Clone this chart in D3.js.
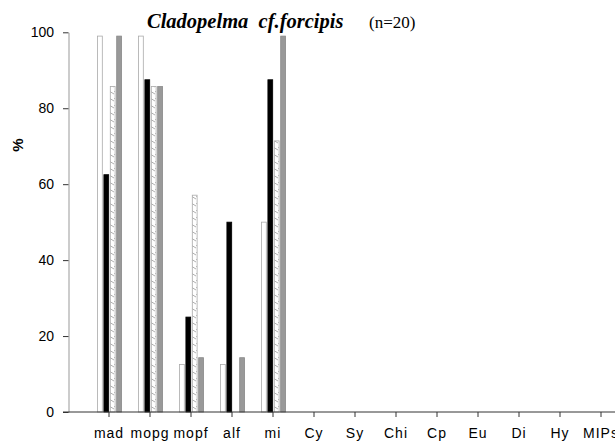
<!DOCTYPE html>
<html lang="en">
<head>
<meta charset="utf-8">
<title>Cladopelma cf.forcipis</title>
<script src="https://d3js.org/d3.v7.min.js"></script>
<style>
  body { margin: 0; padding: 0; background: white; overflow: hidden; }
  svg { display: block; }
</style>
</head>
<body>
<div id="chart"></div>
<script>
  const categories = ["mad", "mopg", "mopf", "alf", "mi", "Cy", "Sy", "Chi", "Cp", "Eu", "Di", "Hy", "MIPs"];
  const seriesNames = ["white", "black", "hatched", "gray"];
  const whiteVals   = [99, 99, 12.5, 12.5, 50, 0, 0, 0, 0, 0, 0, 0, 0];
  const blackVals   = [62.5, 87.5, 25, 50, 87.5, 0, 0, 0, 0, 0, 0, 0, 0];
  const hatchedVals = [85.7, 85.7, 57.1, 0, 71.4, 0, 0, 0, 0, 0, 0, 0, 0];
  const grayVals    = [99, 85.7, 14.3, 14.3, 99, 0, 0, 0, 0, 0, 0, 0, 0];
  const yTicks = [0, 20, 40, 60, 80, 100];

  const w = 615, h = 443;
  const svg = d3.select("#chart").append("svg")
      .attr("width", w).attr("height", h);

  const defs = svg.append("defs");
  const pat = defs.append("pattern")
      .attr("id", "hatch")
      .attr("patternUnits", "userSpaceOnUse")
      .attr("width", 5).attr("height", 7);
  pat.append("rect").attr("width", 5).attr("height", 7).attr("fill", "white");
  pat.append("line")
      .attr("x1", 0).attr("y1", 0).attr("x2", 5).attr("y2", 3)
      .attr("stroke", "#999").attr("stroke-width", 0.8);

  const x = d3.scaleBand().domain(categories).range([88.5, 621.5]).padding(0);
  const x1 = d3.scaleBand().domain(seriesNames).range([-11.5, 12.5]).paddingInner(0.25);
  const y = d3.scaleLinear().domain([0, 100]).range([412, 32.3]);

  const rows = categories.map((c, i) => ({
    cat: c,
    vals: [whiteVals[i], blackVals[i], hatchedVals[i], grayVals[i]]
  }));

  const styles = {
    white:   { fill: "white", stroke: "#aaa" },
    black:   { fill: "black", stroke: "black" },
    hatched: { fill: "url(#hatch)", stroke: "#aaa" },
    gray:    { fill: "#999", stroke: "#888" }
  };

  const groups = svg.selectAll("g.grp")
    .data(rows)
    .enter().append("g")
    .attr("class", "grp")
    .attr("transform", d => `translate(${x(d.cat) + x.bandwidth() / 2},0)`);

  groups.selectAll("rect")
    .data(d => d.vals.map((v, j) => ({ s: seriesNames[j], v: v })).filter(e => e.v > 0))
    .enter().append("rect")
    .attr("x", d => x1(d.s))
    .attr("width", x1.bandwidth())
    .attr("y", d => y(d.v))
    .attr("height", d => y(0) - y(d.v))
    .attr("fill", d => styles[d.s].fill)
    .attr("stroke", d => styles[d.s].stroke)
    .attr("stroke-width", 0.8);

  // y axis
  const yAxis = d3.axisLeft(y).tickValues(yTicks).tickSize(5.5).tickPadding(9).tickSizeOuter(0);
  const gy = svg.append("g")
    .attr("transform", "translate(68.5,0)")
    .call(yAxis);
  gy.selectAll("text")
    .attr("font-family", "Liberation Sans, Arial, sans-serif")
    .attr("font-size", 14).attr("fill", "black");
  gy.select(".domain").attr("stroke", "#999");
  gy.selectAll(".tick line").attr("stroke", "#333");

  // x axis
  const xAxis = d3.axisBottom(x).tickSize(5).tickPadding(11).tickSizeOuter(0);
  const gx = svg.append("g")
    .attr("transform", `translate(0,${y(0)})`)
    .call(xAxis);
  gx.select(".domain").remove();
  gx.append("line")
    .attr("x1", 63).attr("x2", w)
    .attr("stroke", "#333");
  gx.selectAll(".tick line").attr("stroke", "#333");
  gx.selectAll("text")
    .attr("font-family", "Liberation Sans, Arial, sans-serif")
    .attr("font-size", 14)
    .attr("letter-spacing", 1)
    .attr("fill", "black");

  // y label
  svg.append("text")
    .attr("transform", "translate(23,145) rotate(-90)")
    .attr("text-anchor", "middle")
    .attr("font-family", "Liberation Sans, Arial, sans-serif")
    .attr("font-weight", "bold")
    .attr("font-size", 15)
    .text("%");

  // title
  const title = svg.append("text")
    .attr("x", 147).attr("y", 28)
    .attr("font-family", "Liberation Serif, Times New Roman, serif")
    .attr("fill", "black");
  title.append("tspan")
    .attr("font-weight", "bold").attr("font-style", "italic")
    .attr("font-size", 20.5)
    .attr("xml:space", "preserve")
    .text("Cladopelma  cf.forcipis");
  title.append("tspan")
    .attr("x", 369)
    .attr("font-size", 17)
    .text("(n=20)");
</script>
</body>
</html>
